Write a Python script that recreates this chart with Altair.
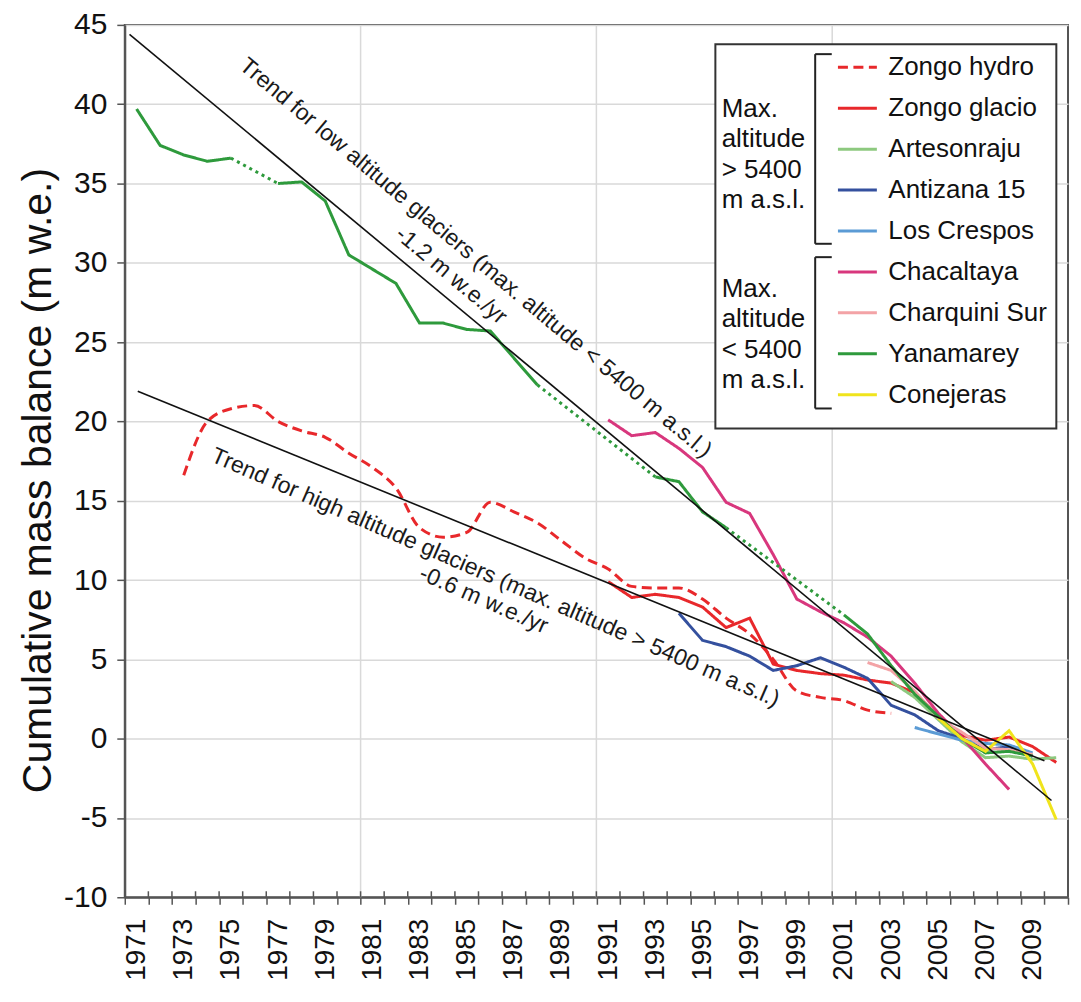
import altair as alt
import pandas as pd

# ---------------- data ----------------
SERIES = ["Zongo hydro", "Zongo glacio", "Artesonraju", "Antizana 15", "Los Crespos",
          "Chacaltaya", "Charquini Sur", "Yanamarey", "Conejeras"]
COLORS = ["#e8282b", "#e8282b", "#8dc97f", "#34509e", "#5b9bd5",
          "#d8377d", "#f3a3a6", "#2e9a3c", "#f0e41c"]

zongo_hydro_years = list(range(1973, 2004))
zongo_hydro = [16.6, 20.0, 20.8, 21.0, 20.0, 19.4, 19.0, 18.0, 17.1, 15.8, 13.3, 12.7, 13.0,
               14.9, 14.3, 13.6, 12.5, 11.4, 10.7, 9.6, 9.5, 9.5, 8.8, 7.6, 6.6, 5.0, 3.0,
               2.6, 2.4, 1.8, 1.6]

zongo_glacio_years = list(range(1991, 2011))
zongo_glacio = [9.9, 8.9, 9.1, 8.9, 8.3, 7.0, 7.6, 4.7, 4.3, 4.1, 4.0, 3.7, 3.5, 2.9, 1.4,
                0.2, -0.1, 0.1, -0.5, -1.5]

artesonraju_years = list(range(2003, 2011))
artesonraju = [3.6, 2.6, 1.2, -0.2, -1.2, -1.1, -1.3, -1.2]

antizana_years = list(range(1994, 2010))
antizana = [7.9, 6.2, 5.8, 5.2, 4.3, 4.6, 5.1, 4.5, 3.8, 2.1, 1.5, 0.5, 0.0, -0.7, -0.5, -1.1]

los_crespos_years = list(range(2004, 2010))
los_crespos = [0.7, 0.3, -0.1, -0.3, -0.4, -0.9]

chacaltaya_years = list(range(1991, 2009))
chacaltaya = [20.1, 19.1, 19.3, 18.3, 17.1, 14.9, 14.2, 11.6, 8.8, 8.0, 7.3, 6.4, 5.2, 3.5,
              1.6, 0.1, -1.6, -3.2]

charquini_years = list(range(2002, 2010))
charquini = [4.8, 4.3, 3.0, 1.3, 0.4, -0.6, -0.7, -1.0]

yanamarey_years = list(range(1971, 2010))
yanamarey = [39.7, 37.4, 36.8, 36.4, 36.6, None, 35.0, 35.1, 33.9, 30.5, 29.6, 28.7, 26.2,
             26.2, 25.8, 25.7, 24.0, 22.3, None, None, None, None, 16.5, 16.2, 14.3, 13.3,
             None, None, None, None, 7.8, 6.6, 4.6, 2.8, 1.4, 0.0, -0.9, -0.8, -1.1]

conejeras_years = list(range(2005, 2011))
conejeras = [1.3, 0.0, -0.8, 0.5, -1.6, -5.1]

TREND_NAMES = ["low", "low", "high", "high"]
TREND_YEARS = [1970.7, 2009.8, 1971.05, 2009.5]
TREND_VALUES = [44.4, -3.9, 21.9, -1.4]

ANNOT_TEXT = ["Trend for low altitude glaciers (max. altitude < 5400 m a.s.l.)",
              "-1.2 m w.e./yr",
              "Trend for high altitude glaciers (max. altitude > 5400 m a.s.l.)",
              "-0.6 m w.e./yr"]
ANNOT_YEAR = [1985.38, 1984.34, 1986.22, 1985.72]
ANNOT_VALUE = [30.3, 29.2, 10.15, 8.75]
ANNOT_ANGLE = [40, 40, 23.5, 23.5]

GROUP_LABELS = ["Max.\naltitude\n> 5400\nm a.s.l.", "Max.\naltitude\n< 5400\nm a.s.l."]

# ---------------- build tables ----------------
series_data = {
    "Zongo hydro": (zongo_hydro_years, zongo_hydro),
    "Zongo glacio": (zongo_glacio_years, zongo_glacio),
    "Artesonraju": (artesonraju_years, artesonraju),
    "Antizana 15": (antizana_years, antizana),
    "Los Crespos": (los_crespos_years, los_crespos),
    "Chacaltaya": (chacaltaya_years, chacaltaya),
    "Charquini Sur": (charquini_years, charquini),
    "Yanamarey": (yanamarey_years, yanamarey),
    "Conejeras": (conejeras_years, conejeras),
}

rows, gap_rows = [], []
for name, (yrs, vals) in series_data.items():
    seg = 0
    prev = None
    for y, v in zip(yrs, vals):
        if v is None:
            if prev is not None:
                seg += 1
            continue
        if prev is not None and y - prev[0] > 1:
            gid = f"{name}-gap{seg}"
            gap_rows.append({"year": prev[0], "value": prev[1], "series": name, "seg": gid})
            gap_rows.append({"year": y, "value": v, "series": name, "seg": gid})
        rows.append({"year": y, "value": v, "series": name, "seg": f"{name}-{seg}"})
        prev = (y, v)

df = pd.DataFrame(rows)
df_hydro = df[df.series == "Zongo hydro"]
df_other = df[df.series != "Zongo hydro"]
df_gap = pd.DataFrame(gap_rows)
df_trend = pd.DataFrame({"trend": TREND_NAMES, "year": TREND_YEARS, "value": TREND_VALUES})
df_annot = pd.DataFrame({"text": ANNOT_TEXT, "year": ANNOT_YEAR, "value": ANNOT_VALUE,
                         "angle": ANNOT_ANGLE})
boundaries = [1970.5 + i for i in range(41)]
df_bound = pd.DataFrame({"year": boundaries})
df_vgrid = pd.DataFrame({"year": [1980.5, 1990.5, 2000.5]})

# ---------------- layout ----------------
W, H = 945, 874
TOP = 16
FONT = "Liberation Sans"
AXIS_COL = "#555555"
xs = alt.Scale(domain=[1970.5, 2010.5], nice=False, zero=False)
ys = alt.Scale(domain=[-10, 45], nice=False, zero=False)
DASHES = [[10, 5.5]] + [[1, 0]] * 8

legend = alt.Legend(orient="none", legendX=713, legendY=21.5, title=None,
                    symbolType="stroke", symbolSize=1521, symbolStrokeWidth=3,
                    labelFontSize=26, labelFont=FONT, labelColor="#111111",
                    labelOffset=10, rowPadding=7, padding=0, labelLimit=400)
color_enc = alt.Color("series:N", scale=alt.Scale(domain=SERIES, range=COLORS), legend=legend)
dash_enc = alt.StrokeDash("series:N", scale=alt.Scale(domain=SERIES, range=DASHES), legend=legend)

x_axis = alt.Axis(values=boundaries, title=None, grid=False,
                  labelExpr="(datum.value + 0.5) % 2 == 1 && datum.value < 2010 ? format(datum.value + 0.5, 'd') : ''",
                  labelAngle=-90, labelOffset=11.8, labelFontSize=28, labelFont=FONT,
                  labelColor="#111111", labelPadding=14, tickSize=7, labelFlush=False,
                  labelOverlap=False, labelBound=False)
y_axis = alt.Axis(values=list(range(-10, 50, 5)), title="Cumulative mass balance (m w.e.)",
                  labelExpr="datum.value < 0 ? '-' + format(-datum.value, 'd') : format(datum.value, 'd')",
                  titleFontSize=41, titleFont=FONT, titleFontWeight="normal",
                  titleColor="#111111", titlePadding=4, titleY=456,
                  labelFontSize=30, labelFont=FONT, labelColor="#111111", labelPadding=10,
                  tickSize=8, grid=True, gridColor="#d9d9d9", gridWidth=1.5,
                  labelFlush=False, labelOverlap=False)

X = alt.X("year:Q", scale=xs, axis=x_axis)
Y = alt.Y("value:Q", scale=ys, axis=y_axis)

vgrid = alt.Chart(df_vgrid).mark_rule(color="#d9d9d9", strokeWidth=1.5).encode(x=X)

hydro = alt.Chart(df_hydro).mark_line(strokeWidth=3, interpolate="monotone").encode(
    x=X, y=Y, color=color_enc, strokeDash=dash_enc, detail="seg:N", order="year:Q")

lines = alt.Chart(df_other).mark_line(strokeWidth=3).encode(
    x=X, y=Y, color=color_enc, strokeDash=dash_enc, detail="seg:N", order="year:Q")

gaps = alt.Chart(df_gap).mark_line(strokeWidth=3, strokeDash=[3, 4],
                                   color=COLORS[SERIES.index("Yanamarey")]).encode(
    x=X, y=Y, detail="seg:N", order="year:Q")

trends = alt.Chart(df_trend).mark_line(color="#111111", strokeWidth=1.6).encode(
    x=X, y=Y, detail="trend:N")

annots = alt.Chart(df_annot).mark_text(font=FONT, fontSize=23, color="#1a1a1a",
                                       align="center", baseline="middle").encode(
    x=X, y=Y, angle=alt.Angle("angle:Q", scale=None), text="text:N")

inner_ticks = alt.Chart(df_bound).mark_rule(color=AXIS_COL, strokeWidth=1.5).encode(
    x=X, y=alt.value(H - 6), y2=alt.value(H))

# legend decorations (pixel layout, relative to the plot's top-left corner)
ONE = alt.Data(values=[{"k": 1}])
OY = 22 - (8 + TOP)   # shift so that decorations keep their page position
box = alt.Chart(ONE).mark_rect(fill="white", stroke="#333333", strokeWidth=2).encode(
    x=alt.value(591.7), x2=alt.value(933.3), y=alt.value(21.3 + OY), y2=alt.value(406.3 + OY))


def group_text(label, first_line_y):
    return alt.Chart(ONE).mark_text(font=FONT, fontSize=26, color="#111111",
                                    align="left", baseline="middle",
                                    lineBreak="\n", lineHeight=30.5).encode(
        x=alt.value(598), y=alt.value(first_line_y + OY), text=alt.value(label))


def seg(x1, y1, x2, y2):
    return alt.Chart(ONE).mark_rule(color="#222222", strokeWidth=2).encode(
        x=alt.value(x1), x2=alt.value(x2), y=alt.value(y1 + OY), y2=alt.value(y2 + OY))


BX, BX2 = 691.7, 708.3
bracket_layers = []
for top, bot in [(31.3, 221.3), (234.7, 386.3)]:
    bracket_layers += [seg(BX, top, BX, bot), seg(BX, top, BX2, top), seg(BX, bot, BX2, bot)]

chart = alt.layer(vgrid, hydro, lines, gaps, trends, annots, inner_ticks, box,
                  group_text(GROUP_LABELS[0], 86.0), group_text(GROUP_LABELS[1], 266.5),
                  *bracket_layers).properties(
    width=W, height=H,
    padding={"left": 117, "top": TOP, "right": 5, "bottom": 96},
    autosize=alt.AutoSizeParams(type="none"),
    background="white",
).configure_view(stroke=AXIS_COL, strokeWidth=2).configure_axis(
    domainColor=AXIS_COL, domainWidth=2, tickColor=AXIS_COL, tickWidth=1.5)

chart.save("out.html", embed_options={"renderer": "svg", "actions": False})
